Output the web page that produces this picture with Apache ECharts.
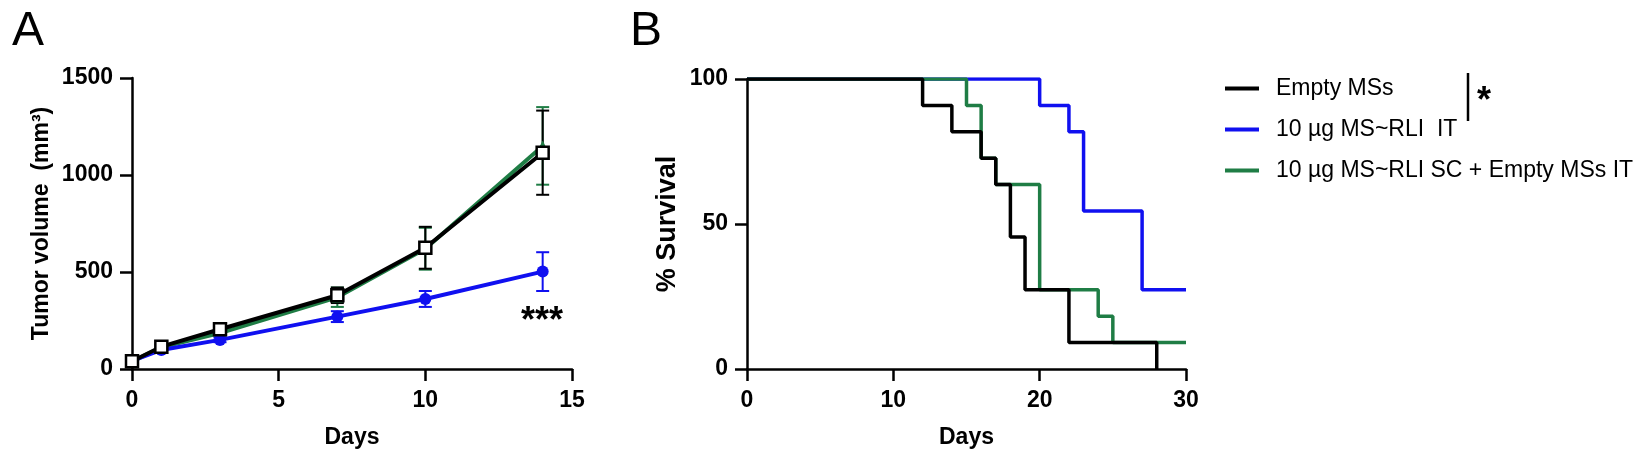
<!DOCTYPE html>
<html>
<head>
<meta charset="UTF-8">
<script src="https://cdn.jsdelivr.net/npm/echarts@6/dist/echarts.min.js"></script>
<style>
  html, body { margin: 0; padding: 0; background: #fff; }
  #chart { width: 1650px; height: 466px; }
</style>
</head>
<body>
<div id="chart"></div>
<script>
// panel A: tumor volume (mean, SEM)
var days = [0, 1, 3, 7, 10, 14];
var emptyMean = [40, 115, 205, 380, 625, 1115];
var emptyErr  = [8, 10, 14, 40, 108, 217];
var scMean    = [38, 112, 185, 370, 620, 1150];
var scErr     = [8, 10, 14, 50, 108, 200];
var itMean    = [42, 98, 150, 270, 361, 502];
var itErr     = [8, 10, 12, 28, 41, 100];

// panel B: survival steps [day, % survival]
var survEmpty = [[0, 100], [12, 90.9], [14, 81.8], [16, 72.7], [17, 63.6], [18, 45.5], [19, 27.3], [22, 9.1], [28, 0]];
var survSC    = [[0, 100], [15, 90.9], [16, 72.7], [17, 63.6], [20, 27.3], [24, 18.2], [25, 9.1], [30, 9.1]];
var survIT    = [[0, 100], [20, 90.9], [22, 81.8], [23, 54.5], [27, 27.3], [30, 27.3]];

var names = ['Empty MSs', '10 µg MS~RLI  IT', '10 µg MS~RLI SC + Empty MSs IT'];
var BLACK = '#000000', BLUE = '#1010f0', GREEN = '#1f7d45';
var colors = [BLACK, BLUE, GREEN];
var FONT = "'Liberation Sans', Arial, sans-serif";

function pairs(xs, ys) {
  return xs.map(function (x, i) { return [x, ys[i]]; });
}
function errData(xs, m, e) {
  return xs.map(function (x, i) { return [x, m[i] - e[i], m[i] + e[i]]; });
}
function errSeries(data, color) {
  return {
    type: 'custom', xAxisIndex: 0, yAxisIndex: 0, silent: true,
    data: data,
    renderItem: function (params, api) {
      var lo = api.coord([api.value(0), api.value(1)]);
      var hi = api.coord([api.value(0), api.value(2)]);
      var w = 6.5;
      var st = { stroke: color, lineWidth: 2 };
      return {
        type: 'group', children: [
          { type: 'line', shape: { x1: lo[0], y1: lo[1], x2: hi[0], y2: hi[1] }, style: st },
          { type: 'line', shape: { x1: lo[0] - w, y1: lo[1], x2: lo[0] + w, y2: lo[1] }, style: st },
          { type: 'line', shape: { x1: hi[0] - w, y1: hi[1], x2: hi[0] + w, y2: hi[1] }, style: st }
        ]
      };
    }
  };
}

var axisCommon = {
  axisLine: { lineStyle: { color: '#000', width: 2.5 } },
  axisTick: { length: 12, lineStyle: { color: '#000', width: 2.5 } },
  splitLine: { show: false },
  axisLabel: { color: '#000', fontFamily: FONT, fontWeight: 'bold', fontSize: 23 },
  nameTextStyle: { color: '#000', fontFamily: FONT, fontWeight: 'bold', fontSize: 23 }
};
function ax(extra) {
  var o = JSON.parse(JSON.stringify(axisCommon));
  for (var k in extra) {
    if (typeof extra[k] === 'object' && o[k]) { for (var j in extra[k]) o[k][j] = extra[k][j]; }
    else o[k] = extra[k];
  }
  return o;
}
function plain(v) { return String(v); }

var chart = echarts.init(document.getElementById('chart'));
var opt = {
  animation: false,
  backgroundColor: '#fff',
  grid: [
    { left: 132, top: 78, width: 440, height: 291 },
    { left: 747, top: 79, width: 439, height: 290 }
  ],
  xAxis: [
    ax({ gridIndex: 0, type: 'value', min: 0, max: 15, interval: 5, name: 'Days',
         nameLocation: 'middle', nameGap: 57, axisLabel: { margin: 20 } }),
    ax({ gridIndex: 1, type: 'value', min: 0, max: 30, interval: 10, name: 'Days',
         nameLocation: 'middle', nameGap: 57, axisLabel: { margin: 20 } })
  ],
  yAxis: [
    ax({ gridIndex: 0, type: 'value', min: 0, max: 1500, interval: 500, name: 'Tumor volume  (mm³)',
         nameLocation: 'middle', nameGap: 79, axisLabel: { margin: 19 } }),
    ax({ gridIndex: 1, type: 'value', min: 0, max: 100, interval: 50, name: '% Survival',
         nameLocation: 'middle', nameGap: 66, axisLabel: { margin: 19 },
         nameTextStyle: { fontSize: 27 } })
  ],
  legend: {
    orient: 'vertical', left: 1220, top: 72,
    itemWidth: 34, itemHeight: 4, itemGap: 18,
    data: names.map(function (n, i) {
      return { name: n, icon: 'rect', itemStyle: { color: colors[i], borderWidth: 0 } };
    }),
    textStyle: { color: '#000', fontFamily: FONT, fontSize: 23, lineHeight: 23, padding: [0, 0, 0, 12] },
    selectedMode: false
  },
  series: [
    errSeries(errData(days, scMean, scErr), GREEN),
    { name: names[2], type: 'line', xAxisIndex: 0, yAxisIndex: 0, data: pairs(days, scMean),
      symbol: 'triangle', symbolSize: 11, color: GREEN, lineStyle: { width: 4, color: GREEN } },
    errSeries(errData(days, itMean, itErr), BLUE),
    { name: names[1], type: 'line', xAxisIndex: 0, yAxisIndex: 0, data: pairs(days, itMean),
      symbol: 'circle', symbolSize: 12, color: BLUE, lineStyle: { width: 4, color: BLUE } },
    errSeries(errData(days, emptyMean, emptyErr), BLACK),
    { name: names[0], type: 'line', xAxisIndex: 0, yAxisIndex: 0, data: pairs(days, emptyMean),
      symbol: 'rect', symbolSize: 12, color: BLACK,
      itemStyle: { color: '#fff', borderColor: BLACK, borderWidth: 2.5 },
      lineStyle: { width: 4, color: BLACK } },

    { name: names[1], type: 'line', xAxisIndex: 1, yAxisIndex: 1, data: survIT, step: 'end',
      showSymbol: false, color: BLUE, lineStyle: { width: 3.5, color: BLUE } },
    { name: names[2], type: 'line', xAxisIndex: 1, yAxisIndex: 1, data: survSC, step: 'end',
      showSymbol: false, color: GREEN, lineStyle: { width: 3.5, color: GREEN } },
    { name: names[0], type: 'line', xAxisIndex: 1, yAxisIndex: 1, data: survEmpty, step: 'end',
      showSymbol: false, color: BLACK, lineStyle: { width: 3.5, color: BLACK } }
  ],
  graphic: [
    { type: 'text', left: 12, top: 8, style: { text: 'A', fontFamily: FONT, fontSize: 48, fill: '#000' } },
    { type: 'text', left: 630, top: 8, style: { text: 'B', fontFamily: FONT, fontSize: 48, fill: '#000' } },
    { type: 'text', x: 542, y: 322, style: { text: '***', fontFamily: FONT, fontWeight: 'bold', fontSize: 36,
      fill: '#000', align: 'center', verticalAlign: 'middle' } },
    { type: 'line', shape: { x1: 1468, y1: 73, x2: 1468, y2: 121 }, style: { stroke: '#000', lineWidth: 2.5 } },
    { type: 'text', x: 1484, y: 102, style: { text: '*', fontFamily: FONT, fontWeight: 'bold', fontSize: 36,
      fill: '#000', align: 'center', verticalAlign: 'middle' } }
  ]
};
opt.yAxis[0].axisLabel.formatter = plain;
opt.yAxis[1].axisLabel.formatter = plain;
chart.setOption(opt);
</script>
</body>
</html>
